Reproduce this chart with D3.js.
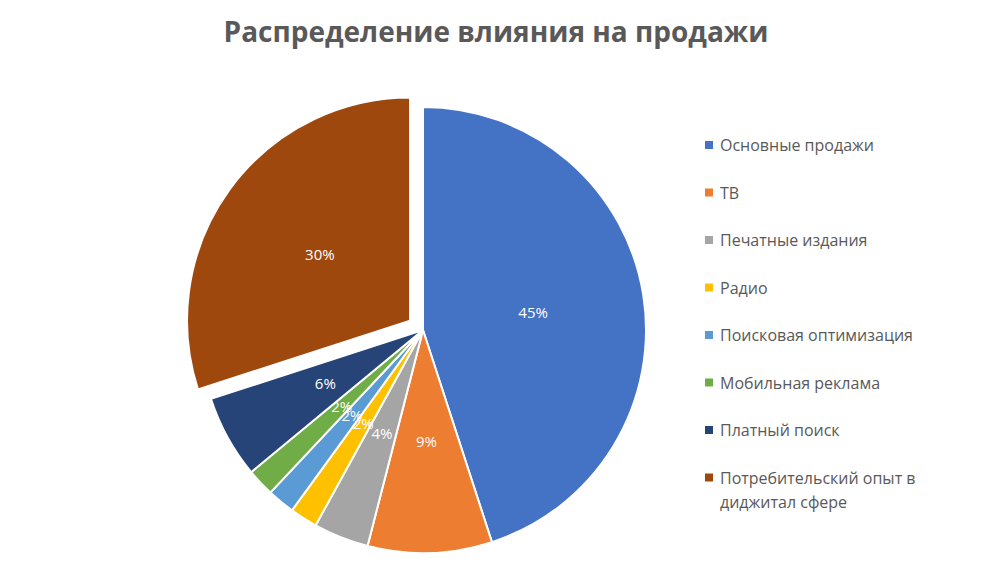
<!DOCTYPE html>
<html><head><meta charset="utf-8">
<script src="https://cdn.jsdelivr.net/npm/d3@7"></script>
<style>body{margin:0;background:#fff;font-family:"Open Sans","Noto Sans",sans-serif}</style>
</head><body>
<svg width="990" height="584"></svg>
<script>
const categories = ["Основные продажи", "ТВ", "Печатные издания", "Радио", "Поисковая оптимизация", "Мобильная реклама", "Платный поиск", "Потребительский опыт в диджитал сфере"];
const values = [45, 9, 4, 2, 2, 2, 6, 30];
const colors = ["#4472c4", "#ed7d31", "#a5a5a5", "#ffc000", "#5b9bd5", "#70ad47", "#264478", "#9e480e"];
const exploded = [7];

const svg = d3.select("svg");
const cx = 423, cy = 330, r = 223;

svg.append("text").attr("x", 496).attr("y", 42).attr("text-anchor", "middle")
  .attr("font-size", 28).attr("font-weight", "bold").attr("fill", "#595959")
  .text("Распределение влияния на продажи");

const pie = d3.pie().sort(null).value((d) => d);
const arcs = pie(values);
const arc = d3.arc().innerRadius(0).outerRadius(r);
const g = svg.append("g").attr("transform", `translate(${cx},${cy})`);

const slice = g.selectAll("g.slice").data(arcs).enter().append("g")
  .attr("transform", (d, i) => {
    if (!exploded.includes(i)) return null;
    const a = (d.startAngle + d.endAngle) / 2;
    return `translate(${Math.sin(a) * 16},${-Math.cos(a) * 16})`;
  });

slice.append("path").attr("d", arc)
  .attr("fill", (d, i) => colors[i]).attr("stroke", "#fff").attr("stroke-width", 2);

slice.append("text")
  .attr("transform", (d) => {
    const a = (d.startAngle + d.endAngle) / 2;
    const lr = r * 0.5;
    return `translate(${Math.sin(a) * lr},${-Math.cos(a) * lr})`;
  })
  .attr("text-anchor", "middle").attr("dy", "0.35em")
  .attr("font-size", 15).attr("fill", "#fff")
  .text((d) => d.data + "%");

// legend
const legend = svg.selectAll("g.legend").data(categories).enter().append("g")
  .attr("transform", (d, i) => `translate(705,${145 + i * 47.5})`);
legend.append("rect").attr("x", 0).attr("y", -4).attr("width", 8).attr("height", 8)
  .attr("fill", (d, i) => colors[i]);
legend.append("text").attr("x", 15).attr("font-size", 16).attr("fill", "#595959")
  .each(function (d, i) {
    const t = d3.select(this);
    const lines = i === 7 ? ["Потребительский опыт в", "диджитал сфере"] : [d];
    lines.forEach((l, j) => t.append("tspan").attr("x", 15).attr("dy", j ? 24 : 6).text(l));
  });
</script>
</body></html>
